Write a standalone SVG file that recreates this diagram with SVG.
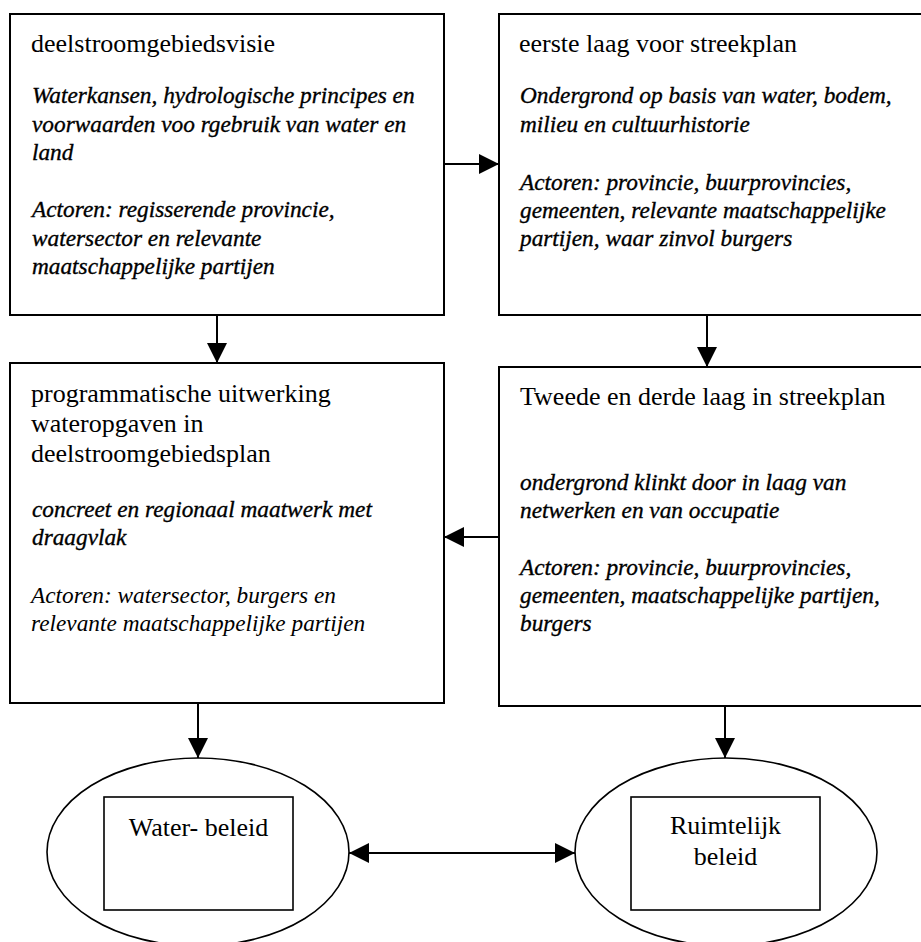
<svg xmlns="http://www.w3.org/2000/svg" width="921" height="942" viewBox="0 0 921 942">
<style>
.box{fill:#fff;stroke:#000;stroke-width:2}
.inner{fill:#fff;stroke:#000;stroke-width:1.6}
.ell{fill:#fff;stroke:#000;stroke-width:1.6}
.t{font-family:'Liberation Serif','DejaVu Serif',serif;font-size:26px;fill:#000}
.it{font-family:'Liberation Serif','DejaVu Serif',serif;font-size:23.3px;font-style:italic;fill:#000;stroke:#000;stroke-width:0.35}
.it2{font-family:'Liberation Serif','DejaVu Serif',serif;font-size:23.3px;font-style:italic;fill:#000}
.c{text-anchor:middle}
.conn line{stroke:#000;stroke-width:2}
</style>
<defs>
<marker id="ah" viewBox="0 0 20 20" refX="20" refY="10" markerWidth="20" markerHeight="20" markerUnits="userSpaceOnUse" orient="auto-start-reverse">
<path d="M0,0 L20,10 L0,20 Z" fill="#000"/>
</marker>
</defs>
<rect width="921" height="942" fill="#fff"/>

<g id="n1">
<rect class="box" x="10" y="14" width="434" height="301"/>
<text class="t" x="31" y="52">deelstroomgebiedsvisie</text>
<text class="it" x="32" y="103">Waterkansen, hydrologische principes en</text>
<text class="it" x="32" y="132">voorwaarden voo rgebruik van water en</text>
<text class="it" x="32" y="160">land</text>
<text class="it" x="32" y="217">Actoren: regisserende provincie,</text>
<text class="it" x="32" y="246">watersector en relevante</text>
<text class="it" x="32" y="274">maatschappelijke partijen</text>
</g>

<g id="n2">
<rect class="box" x="499" y="14" width="430" height="301"/>
<text class="t" x="519" y="52">eerste laag voor streekplan</text>
<text class="it" x="520" y="103">Ondergrond op basis van water, bodem,</text>
<text class="it" x="520" y="132">milieu en cultuurhistorie</text>
<text class="it" x="520" y="190">Actoren: provincie, buurprovincies,</text>
<text class="it" x="520" y="218">gemeenten, relevante maatschappelijke</text>
<text class="it" x="520" y="246">partijen, waar zinvol burgers</text>
</g>

<g id="n3">
<rect class="box" x="10" y="363" width="434" height="340"/>
<text class="t" x="31" y="402">programmatische uitwerking</text>
<text class="t" x="31" y="432">wateropgaven in</text>
<text class="t" x="31" y="462">deelstroomgebiedsplan</text>
<text class="it" x="32" y="517">concreet en regionaal maatwerk met</text>
<text class="it" x="32" y="545">draagvlak</text>
<text class="it2" x="31" y="603">Actoren: watersector, burgers en</text>
<text class="it2" x="31" y="631">relevante maatschappelijke partijen</text>
</g>

<g id="n4">
<rect class="box" x="499" y="367" width="430" height="339"/>
<text class="t" x="520" y="405">Tweede en derde laag in streekplan</text>
<text class="it" x="520" y="490">ondergrond klinkt door in laag van</text>
<text class="it" x="520" y="518">netwerken en van occupatie</text>
<text class="it" x="520" y="575">Actoren: provincie, buurprovincies,</text>
<text class="it" x="520" y="603">gemeenten, maatschappelijke partijen,</text>
<text class="it" x="520" y="631">burgers</text>
</g>

<g id="n5">
<ellipse class="ell" cx="198" cy="852" rx="151" ry="94"/>
<rect class="inner" x="104" y="797" width="189" height="113"/>
<text class="t c" x="198.5" y="836">Water- beleid</text>
</g>

<g id="n6">
<ellipse class="ell" cx="726" cy="852" rx="151" ry="94"/>
<rect class="inner" x="631" y="797" width="189" height="113"/>
<text class="t c" x="725.5" y="834">Ruimtelijk</text>
<text class="t c" x="725.5" y="865">beleid</text>
</g>

<g class="conn" id="connectors">
<line x1="444" y1="164" x2="499" y2="164" marker-end="url(#ah)"/>
<line x1="217" y1="315" x2="217" y2="363" marker-end="url(#ah)"/>
<line x1="707" y1="315" x2="707" y2="367" marker-end="url(#ah)"/>
<line x1="499" y1="537" x2="444" y2="537" marker-end="url(#ah)"/>
<line x1="198" y1="703" x2="198" y2="758" marker-end="url(#ah)"/>
<line x1="725" y1="706" x2="725" y2="758" marker-end="url(#ah)"/>
<line x1="349" y1="853" x2="575" y2="853" marker-start="url(#ah)" marker-end="url(#ah)"/>
</g>
</svg>
